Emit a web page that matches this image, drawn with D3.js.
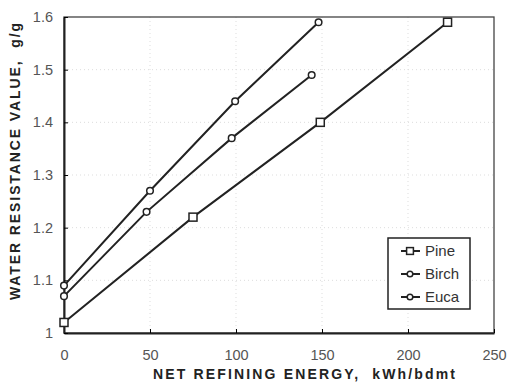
<!DOCTYPE html>
<html>
<head>
<meta charset="utf-8">
<script src="https://cdn.jsdelivr.net/npm/d3@7"></script>
<style>
  body { margin: 0; background: #fff; }
  text { font-family: "Liberation Sans", Arial, sans-serif; }
</style>
</head>
<body>
<script>
var margin = {top: 17, right: 17, bottom: 50, left: 64},
    width = 511 - margin.left - margin.right,
    height = 383 - margin.top - margin.bottom;

// data
var pine_x = [0, 75, 149, 223],
    pine_y = [1.02, 1.22, 1.40, 1.59];
var birch_x = [0, 48, 97.5, 144],
    birch_y = [1.07, 1.23, 1.37, 1.49];
var euca_x = [0, 50, 99.5, 148],
    euca_y = [1.09, 1.27, 1.44, 1.59];

var x_ticks = [0, 50, 100, 150, 200, 250],
    y_ticks = [1, 1.1, 1.2, 1.3, 1.4, 1.5, 1.6];

var series = [
  {name: "Pine", x: pine_x, y: pine_y, marker: "square"},
  {name: "Birch", x: birch_x, y: birch_y, marker: "circle"},
  {name: "Euca", x: euca_x, y: euca_y, marker: "circle"}
];

var x_scale = d3.scaleLinear().domain([0, 250]).range([0, width]),
    y_scale = d3.scaleLinear().domain([1, 1.6]).range([height, 0]);

var svg = d3.select("body").append("svg")
    .attr("width", 511)
    .attr("height", 383)
  .append("g")
    .attr("transform", "translate(" + margin.left + "," + margin.top + ")");

// faint dotted grid
svg.append("g").selectAll("line")
    .data(x_ticks.slice(1, -1))
  .enter().append("line")
    .attr("x1", x_scale).attr("x2", x_scale)
    .attr("y1", 0).attr("y2", height)
    .style("stroke", "#ddd").style("stroke-dasharray", "1,3");
svg.append("g").selectAll("line")
    .data(y_ticks.slice(1, -1))
  .enter().append("line")
    .attr("y1", y_scale).attr("y2", y_scale)
    .attr("x1", 0).attr("x2", width)
    .style("stroke", "#ddd").style("stroke-dasharray", "1,3");

// frame
svg.append("rect")
    .attr("width", width).attr("height", height)
    .style("fill", "none").style("stroke", "#444").style("stroke-width", 1.3);

// x-axis
var x_axis = d3.axisBottom(x_scale).tickValues(x_ticks).tickSizeInner(-4).tickSizeOuter(0).tickPadding(17)
    .tickFormat(d3.format("d"));
var gx = svg.append("g")
    .attr("transform", "translate(0," + height + ")")
    .call(x_axis);
gx.select(".domain").style("stroke", "#222").style("stroke-width", 2);
gx.selectAll("text").style("font-size", "14.5px").style("fill", "#555");

// y-axis
var y_axis = d3.axisLeft(y_scale).tickValues(y_ticks).tickSizeInner(-4).tickSizeOuter(0).tickPadding(11)
    .tickFormat(function(d) { return d === 1 ? "1" : d3.format(".1f")(d); });
var gy = svg.append("g").call(y_axis);
gy.select(".domain").style("stroke", "#222").style("stroke-width", 2);
gy.selectAll("text").style("font-size", "14.5px").style("fill", "#555");

svg.append("text")
    .attr("x", 153 - margin.left)
    .attr("y", 379 - margin.top)
    .attr("textLength", 302)
    .attr("lengthAdjust", "spacing")
    .style("font-size", "14px")
    .style("font-weight", "bold")
    .style("fill", "#222")
    .style("white-space", "pre")
    .text("NET REFINING ENERGY,  kWh/bdmt");

svg.append("text")
    .attr("transform", "rotate(-90)")
    .attr("x", -(300 - margin.top))
    .attr("y", -margin.left + 20)
    .attr("textLength", 277)
    .attr("lengthAdjust", "spacing")
    .style("font-size", "14px")
    .style("font-weight", "bold")
    .style("fill", "#222")
    .style("white-space", "pre")
    .text("WATER RESISTANCE VALUE,  g/g");

var line = d3.line()
    .x(function(d) { return x_scale(d[0]); })
    .y(function(d) { return y_scale(d[1]); });

function draw_marker(g, type, cx, cy, s) {
  s = s || 1;
  if (type === "square") {
    g.append("rect")
        .attr("x", cx - 4 * s).attr("y", cy - 4 * s)
        .attr("width", 8 * s).attr("height", 8 * s)
        .style("fill", "#fff").style("stroke", "#222").style("stroke-width", 1.5);
  } else {
    g.append("circle")
        .attr("cx", cx).attr("cy", cy).attr("r", 3.3 * s)
        .style("fill", "#fff").style("stroke", "#222").style("stroke-width", 1.5);
  }
}

series.forEach(function(s) {
  var pts = s.x.map(function(v, i) { return [v, s.y[i]]; });
  svg.append("path")
      .datum(pts)
      .attr("d", line)
      .style("fill", "none").style("stroke", "#222").style("stroke-width", 2);
  var g = svg.append("g");
  pts.forEach(function(p) { draw_marker(g, s.marker, x_scale(p[0]), y_scale(p[1])); });
});

// legend
var lg = svg.append("g").attr("transform", "translate(" + (388 - margin.left) + "," + (238 - margin.top) + ")");
lg.append("rect").attr("width", 82).attr("height", 71)
    .style("fill", "#fff").style("stroke", "#222").style("stroke-width", 1.5);
series.forEach(function(s, i) {
  var yy = 13 + i * 23;
  lg.append("line").attr("x1", 13).attr("x2", 32).attr("y1", yy).attr("y2", yy)
      .style("stroke", "#222").style("stroke-width", 2);
  draw_marker(lg, s.marker, 22, yy, 0.85);
  lg.append("text").attr("x", 37).attr("y", yy + 5)
      .style("font-size", "15px").style("fill", "#333").text(s.name);
});
</script>
</body>
</html>
